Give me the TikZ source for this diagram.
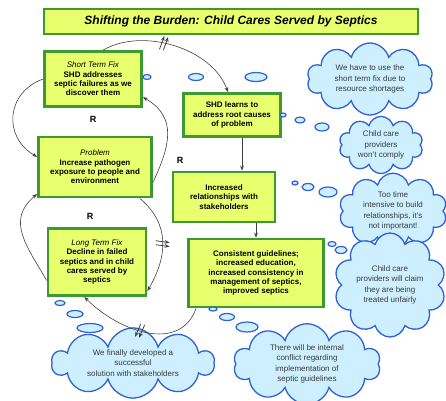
\documentclass[tikz,border=0pt]{standalone}
\usepackage{fontspec}
\setmainfont{Liberation Sans}
\usetikzlibrary{shapes.symbols,decorations.markings,arrows.meta}
\definecolor{boxfill}{HTML}{E8FF6E}
\definecolor{boxline}{HTML}{3C9A30}
\definecolor{cloudfill}{HTML}{CDEFFF}
\definecolor{cloudline}{HTML}{2F62D3}
\definecolor{textgray}{HTML}{3A3A3A}
\begin{document}
\begin{tikzpicture}[
    x=1pt, y=-1pt,
    every node/.style={inner sep=1pt, align=center, font=\fontsize{8}{9.4}\selectfont\bfseries},
    box/.style={draw=boxline, line width=2.8pt, fill=boxfill},
    thought/.style={cloud, cloud puffs=10, cloud ignores aspect, draw=cloudline, line width=1.3pt,
        fill=cloudfill, text=textgray, font=\fontsize{8}{10.5}\selectfont},
    bubble/.style={draw=cloudline, line width=1.2pt, fill=cloudfill},
    link/.style={-{Stealth[length=5pt]}, semithick, draw=black!75},
    delay/.style={postaction={decorate, decoration={markings, mark=at position #1 with {
        \draw[thick] (-2pt,-7pt) -- (0pt,7pt);
        \draw[thick] (2pt,-7pt) -- (4pt,7pt);}}}},
    delay/.default=0.5
]
\useasboundingbox (0,0) rectangle (446,400);

% title
\node[box, minimum width=374, minimum height=25, font=\fontsize{12}{13}\selectfont\bfseries\itshape] (title) at (231,21.5)
    {Shifting the Burden: Child Cares Served by Septics};

% left loop
\node[box, minimum width=97, minimum height=55] (stf) at (93,79)
    {\textit{\mdseries Short Term Fix}\\SHD addresses\\septic failures as we\\discover them};
\node[box, minimum width=113, minimum height=60] (prob) at (95,167)
    {\textit{\mdseries Problem}\\Increase pathogen\\exposure to people and\\environment};
\node[box, minimum width=98, minimum height=67] (ltf) at (97,262)
    {\textit{\mdseries Long Term Fix}\\Decline in failed\\septics and in child\\cares served by\\septics};

% right chain
\node[box, minimum width=97, minimum height=43] (shd) at (232,115)
    {SHD learns to\\address root causes\\of problem};
\node[box, minimum width=102, minimum height=50] (rel) at (224,197)
    {Increased\\relationships with\\stakeholders};
\node[box, minimum width=135, minimum height=68] (cg) at (256,273)
    {Consistent guidelines;\\increased education,\\increased consistency in\\management of septics,\\improved septics};

\node[font=\fontsize{9}{10}\selectfont\bfseries] (r1) at (93,119) {R};
\node[font=\fontsize{9}{10}\selectfont\bfseries] (r2) at (90,216) {R};
\node[font=\fontsize{9}{10}\selectfont\bfseries] (r3) at (180,160) {R};

% thought bubbles
\foreach \cx/\cy/\rx/\ry in {147/77/4/2.5, 196/77/7.5/3.5, 256/77/11/4.5,
    283/115/3/2, 300/120/5/3, 322/127/7/4,
    295/183/3/2, 308/187/6/3.5, 328/192/9/5,
    332/244/4/2.5, 341/250/6/3.5,
    60/303/5/2.5, 75/314/8/3.5, 90/328/13/4.5,
    213/309/4/2, 227/317/7.5/3.5, 247/327/11/5}
    \draw[bubble] (\cx,\cy) ellipse [x radius=\rx, y radius=\ry];

\node[thought, minimum width=126, minimum height=72] (c1) at (370,79)
    {We have to use the\\short term fix due to\\resource shortages};
\node[thought, minimum width=84, minimum height=56] (c2) at (381,145)
    {Child care\\providers\\won't comply};
\node[thought, minimum width=108, minimum height=74] (c3) at (393,211)
    {Too time\\intensive to build\\relationships, it's\\not important!};
\node[thought, minimum width=112, minimum height=104] (c4) at (390,285)
    {Child care\\providers will claim\\they are being\\treated unfairly};
\node[thought, minimum width=147, minimum height=68] (c5) at (307,364)
    {There will be internal\\conflict regarding\\implementation of\\septic guidelines};
\node[thought, minimum width=162, minimum height=55] (c6) at (133,363)
    {We finally developed a\\successful\\solution with stakeholders};

% connectors
\draw[link, delay=0.42] ([xshift=10pt]stf.north) to[out=30, in=110, looseness=0.9] ([xshift=-4pt]shd.north);
\draw[link] (stf.west) to[out=200, in=150, looseness=1.3] (prob.170);
\draw[link] (prob.-15) to[out=65, in=-30, looseness=1.2] (stf.-20);
\draw[link, delay=0.5] (prob.-35) to[out=-40, in=60, looseness=1.1] (ltf.-30);
\draw[link] (ltf.200) to[out=120, in=-140, looseness=1.2] (prob.205);
\draw[link, delay=0.5] ([xshift=9pt]cg.south west) to[out=-110, in=-45, looseness=1.1] (ltf.-110);
\draw[link] ([xshift=10pt]shd.south) -- ([xshift=10pt]shd.south |- rel.north);
\draw[link] (rel.south -| cg.north) -- (cg.north);
\end{tikzpicture}
\end{document}
